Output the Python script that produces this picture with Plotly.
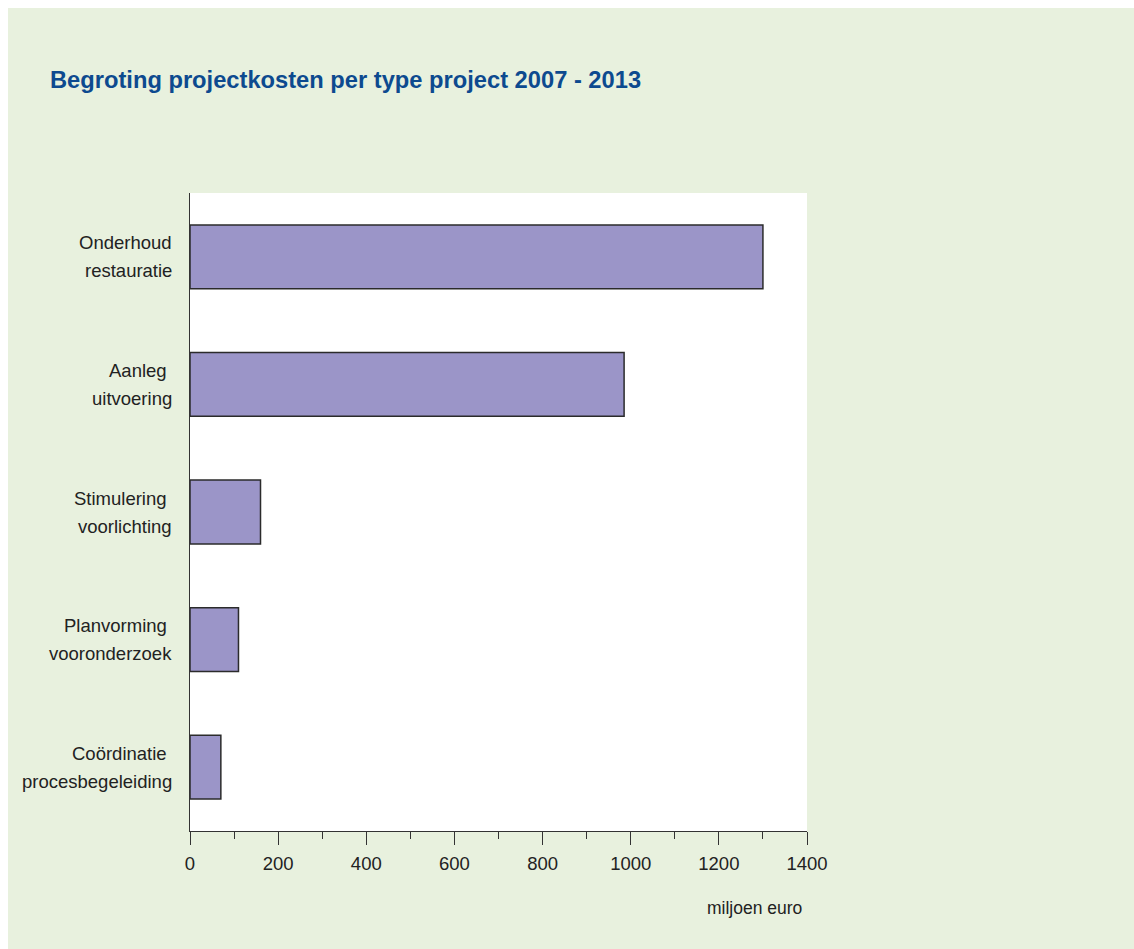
import plotly.graph_objects as go

# Project cost budget per project type, 2007-2013 (million euro)
categories = [
    "Coördinatie\u00a0<br>procesbegeleiding",
    "Planvorming\u00a0<br>vooronderzoek",
    "Stimulering\u00a0<br>voorlichting",
    "Aanleg\u00a0<br>uitvoering",
    "Onderhoud<br>restauratie",
]
values = [70, 110, 160, 985, 1300]
x_ticks = [0, 200, 400, 600, 800, 1000, 1200, 1400]

W, H = 1134, 949
L, R, T, B = 190, 807, 193, 831  # plot-area pixel bounds
pw, ph = R - L, B - T

def px_x(x):
    return (x - L) / pw

def px_y(y):
    return (B - y) / ph

FONT = "Liberation Sans, Arial, sans-serif"
GREEN = "#e8f1de"
INK = "#222222"

fig = go.Figure(
    go.Bar(
        x=values,
        y=categories,
        orientation="h",
        marker=dict(color="#9b95c8", line=dict(color="#2b2b2b", width=1.5)),
        hoverinfo="skip",
    )
)

fig.update_layout(
    width=W,
    height=H,
    margin=dict(l=L, r=W - R, t=T, b=H - B, pad=0, autoexpand=False),
    paper_bgcolor=GREEN,
    plot_bgcolor="white",
    bargap=0.5,
    showlegend=False,
    font=dict(family=FONT, size=18.5, color=INK),
)

fig.update_xaxes(
    range=[0, 1400],
    tickvals=x_ticks,
    ticks="outside",
    ticklen=13,
    tickwidth=1.3,
    tickcolor="#333333",
    showline=True,
    linecolor="#333333",
    linewidth=1.3,
    showgrid=False,
    zeroline=False,
    automargin=False,
    ticklabelstandoff=3,
    minor=dict(ticks="outside", ticklen=7, dtick=100, tick0=0, tickcolor="#333333", tickwidth=1.3, showgrid=False),
    tickfont=dict(family=FONT, size=18.5, color=INK),
    fixedrange=True,
)

fig.update_yaxes(
    ticks="",
    showline=True,
    linecolor="#333333",
    linewidth=1.3,
    showgrid=False,
    zeroline=False,
    automargin=False,
    showticklabels=False,
    fixedrange=True,
)

# Two-line category labels, right-aligned left of the axis with open line spacing
for cat in categories:
    for line, shift in zip(cat.split("<br>"), (14, -14)):
        fig.add_annotation(
            text=line, xref="paper", yref="y", x=px_x(174), y=cat,
            xanchor="right", yanchor="middle", yshift=shift, showarrow=False,
            font=dict(family=FONT, size=18.5, color=INK),
        )

# White margin strips at top and left of the green panel
fig.add_shape(type="rect", xref="paper", yref="paper",
              x0=px_x(-2), x1=px_x(W + 2), y0=px_y(8), y1=px_y(-2),
              fillcolor="white", line=dict(width=0), layer="below")
fig.add_shape(type="rect", xref="paper", yref="paper",
              x0=px_x(-2), x1=px_x(8), y0=px_y(H + 2), y1=px_y(-2),
              fillcolor="white", line=dict(width=0), layer="below")

fig.add_annotation(
    text="<b>Begroting projectkosten per type project 2007 - 2013</b>",
    xref="paper", yref="paper", x=px_x(48), y=px_y(80),
    xanchor="left", yanchor="middle", showarrow=False,
    font=dict(family=FONT, size=23.7, color="#0d4a8f"),
)

fig.add_annotation(
    text="miljoen euro",
    xref="paper", yref="paper", x=px_x(804), y=px_y(908),
    xanchor="right", yanchor="middle", showarrow=False,
    font=dict(family=FONT, size=17.5, color=INK),
)

fig.write_html("out.html")
